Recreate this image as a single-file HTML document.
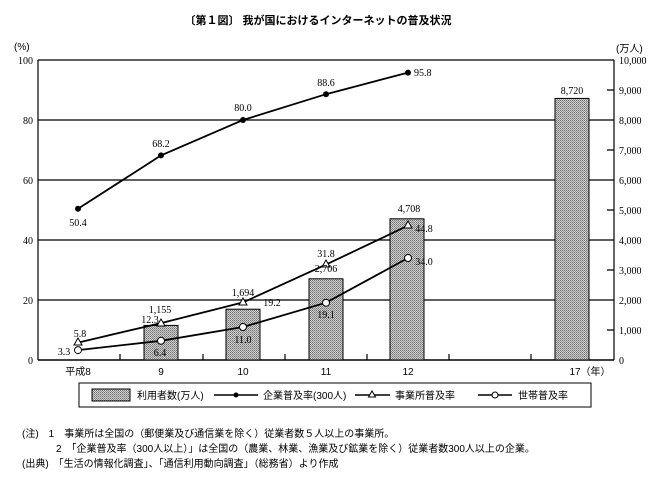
<!DOCTYPE html>
<html><head><meta charset="utf-8"><style>
body{margin:0;background:#fff;}
svg{display:block;font-family:"Liberation Serif","Noto Serif CJK SC",serif;}
.j{font-family:"Liberation Sans","Noto Sans CJK JP",sans-serif;}
</style></head><body>
<svg width="664" height="483" viewBox="0 0 664 483">
<defs><pattern id="p" width="2" height="2" patternUnits="userSpaceOnUse"><rect width="2" height="2" fill="#d0d0d0"/><rect width="1" height="1" fill="#707070"/><rect x="1" y="1" width="1" height="1" fill="#909090"/></pattern></defs>
<text x="318" y="24" font-size="11" font-weight="bold" text-anchor="middle" class="j">〔第１図〕 我が国におけるインターネットの普及状況</text>
<text x="14" y="50" font-size="10" class="j">(%)</text>
<text x="616" y="52" font-size="10" class="j">(万人)</text>
<g stroke="#000" stroke-width="1.2" fill="none">
<line x1="38" y1="60" x2="614" y2="60"/>
<line x1="38" y1="120" x2="614" y2="120"/>
<line x1="38" y1="180" x2="614" y2="180"/>
<line x1="38" y1="240" x2="614" y2="240"/>
<line x1="38" y1="300" x2="614" y2="300"/>
<line x1="38" y1="60" x2="38" y2="360"/>
<line x1="614" y1="60" x2="614" y2="360"/>
<line x1="38" y1="360" x2="614" y2="360" stroke-width="1.5"/>
<path d="M120 360v-6M203 360v-6M285 360v-6M367 360v-6M449 360v-6M531 360v-6"/>
<path d="M607 90h7M607 150h7M607 210h7M607 270h7M607 330h7"/>
</g>
<g font-size="10" text-anchor="end">
<text x="33" y="64">100</text><text x="33" y="124">80</text><text x="33" y="184">60</text><text x="33" y="244">40</text><text x="33" y="304">20</text><text x="33" y="364">0</text>
</g>
<g font-size="10">
<text x="619" y="64">10,000</text><text x="619" y="94">9,000</text><text x="619" y="124">8,000</text><text x="619" y="154">7,000</text><text x="619" y="184">6,000</text><text x="619" y="214">5,000</text><text x="619" y="244">4,000</text><text x="619" y="274">3,000</text><text x="619" y="304">2,000</text><text x="619" y="334">1,000</text><text x="619" y="364">0</text>
</g>
<g fill="url(#p)" stroke="#000" stroke-width="1">
<rect x="144" y="325.4" width="34" height="34.6"/>
<rect x="226" y="309.2" width="34" height="50.8"/>
<rect x="309" y="278.8" width="34" height="81.2"/>
<rect x="390" y="218.8" width="34" height="141.2"/>
<rect x="555" y="98.4" width="34" height="261.6"/>
</g>
<g stroke="#000" stroke-width="1.8" fill="none">
<polyline points="78,208.8 161,155.4 243,120 326,94.2 408,72.6"/>
<polyline points="78,342.6 161,323.1 243,302.4 326,264.6 408,225.6"/>
<polyline points="78,350.1 161,340.8 243,327 326,302.7 408,258"/>
</g>
<g fill="#000"><circle cx="78" cy="208.8" r="3"/><circle cx="161" cy="155.4" r="3"/><circle cx="243" cy="120" r="3"/><circle cx="326" cy="94.2" r="3"/><circle cx="408" cy="72.6" r="3"/></g>
<g fill="#fff" stroke="#000" stroke-width="1">
<path d="M78 338l4 7h-8z"/><path d="M161 319l4 7h-8z"/><path d="M243 298l4 7h-8z"/><path d="M326 260l4 7h-8z"/><path d="M408 221l4 7h-8z"/>
<circle cx="78" cy="350.1" r="3.5"/><circle cx="161" cy="340.8" r="3.5"/><circle cx="243" cy="327" r="3.5"/><circle cx="326" cy="302.7" r="3.5"/><circle cx="408" cy="258" r="3.5"/>
</g>
<g font-size="10" text-anchor="middle">
<text x="78" y="226">50.4</text><text x="161" y="147">68.2</text><text x="243" y="111">80.0</text><text x="326" y="86">88.6</text><text x="414" y="76" text-anchor="start">95.8</text>
<text x="80" y="337">5.8</text><text x="150" y="323">12.3</text><text x="160" y="313">1,155</text><text x="243" y="296">1,694</text><text x="272" y="306">19.2</text>
<text x="326" y="257">31.8</text><text x="326" y="272">2,706</text><text x="409" y="212">4,708</text><text x="424" y="232">44.8</text><text x="424" y="265">34.0</text>
<text x="64" y="355">3.3</text><text x="160" y="356">6.4</text><text x="243" y="343">11.0</text><text x="326" y="318">19.1</text><text x="572" y="94">8,720</text>
</g>
<g font-size="10" text-anchor="middle" class="j">
<text x="78" y="375">平成8</text><text x="161" y="375">9</text><text x="243" y="375">10</text><text x="326" y="375">11</text><text x="408" y="375">12</text><text x="590" y="375">17（年）</text>
</g>
<rect x="79" y="383" width="512" height="24" fill="none" stroke="#000" stroke-width="1"/>
<rect x="92" y="389" width="38" height="12" fill="url(#p)" stroke="#000"/>
<g font-size="10" class="j">
<text x="137" y="399">利用者数(万人)</text><text x="263" y="399">企業普及率(300人)</text><text x="395" y="399">事業所普及率</text><text x="518" y="399">世帯普及率</text>
</g>
<g stroke="#000" stroke-width="1.5"><line x1="214" y1="395" x2="258" y2="395"/><line x1="355" y1="395" x2="390" y2="395"/><line x1="478" y1="395" x2="512" y2="395"/></g>
<circle cx="236" cy="395" r="2.5" fill="#000"/><path d="M372 391l3.5 6h-7z" fill="#fff" stroke="#000"/><circle cx="495" cy="395" r="3" fill="#fff" stroke="#000"/>
<g font-size="10" class="j">
<text x="22" y="437">(注)　1　事業所は全国の（郵便業及び通信業を除く）従業者数５人以上の事業所。</text>
<text x="56" y="452">2　「企業普及率（300人以上）」は全国の（農業、林業、漁業及び鉱業を除く）従業者数300人以上の企業。</text>
<text x="22" y="467">(出典)　「生活の情報化調査」、「通信利用動向調査」（総務省）より作成</text>
</g>
</svg>
</body></html>
